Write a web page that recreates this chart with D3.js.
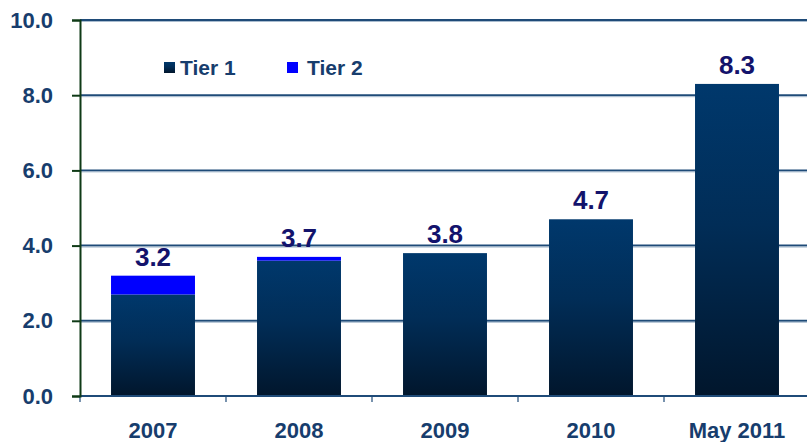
<!DOCTYPE html>
<html>
<head>
<meta charset="utf-8">
<script src="https://cdn.jsdelivr.net/npm/d3@7/dist/d3.min.js"></script>
<style>
  html, body { margin: 0; padding: 0; background: #ffffff; }
  svg { display: block; font-family: "Liberation Sans", Arial, sans-serif; font-weight: bold; }
</style>
</head>
<body>
<svg id="chart" width="807" height="442"></svg>
<script>
// Capital by year, split into Tier 1 and Tier 2
const categories = ["2007", "2008", "2009", "2010", "May 2011"];
const tier1 = [2.7, 3.6, 3.8, 4.7, 8.3];
const tier2 = [0.5, 0.1, 0.0, 0.0, 0.0];
const totals = [3.2, 3.7, 3.8, 4.7, 8.3];
const seriesNames = ["Tier 1", "Tier 2"];
const yTicks = [0, 2, 4, 6, 8, 10];

const svg = d3.select("#chart");
const margin = { top: 20, right: -3, bottom: 46, left: 80 };
const W = 807, H = 442;
const innerW = W - margin.left - margin.right;
const innerH = H - margin.top - margin.bottom;

const defs = svg.append("defs");
const grad = defs.append("linearGradient")
  .attr("id", "tier1Grad").attr("x1", 0).attr("y1", 0).attr("x2", 0).attr("y2", 1);
grad.append("stop").attr("offset", "0%").attr("stop-color", "#00386c");
grad.append("stop").attr("offset", "45%").attr("stop-color", "#012d57");
grad.append("stop").attr("offset", "100%").attr("stop-color", "#01162c");

const g = svg.append("g").attr("transform", `translate(${margin.left},${margin.top})`);

const x = d3.scaleBand().domain(categories).range([0, innerW]).paddingInner(0.425).paddingOuter(0.2125);
const y = d3.scaleLinear().domain([0, 10]).range([innerH, 0]);

// horizontal gridlines
g.append("g").selectAll("line").data(yTicks.filter(d => d > 0)).join("line")
  .attr("x1", 0).attr("x2", innerW + 10)
  .attr("y1", d => y(d)).attr("y2", d => y(d))
  .attr("stroke", "#1f4b78").attr("stroke-width", 2);
g.append("g").selectAll("line").data(yTicks.filter(d => d > 0)).join("line")
  .attr("x1", 0).attr("x2", innerW + 10)
  .attr("y1", d => y(d) + 1.5).attr("y2", d => y(d) + 1.5)
  .attr("stroke", "#a9bccf").attr("stroke-width", 1);

// stacked bars
const stackData = categories.map((c, i) => ({ cat: c, "Tier 1": tier1[i], "Tier 2": tier2[i] }));
const stacked = d3.stack().keys(seriesNames)(stackData);
const fills = { "Tier 1": "url(#tier1Grad)", "Tier 2": "#0000ff" };

g.append("g").selectAll("g").data(stacked).join("g")
  .attr("fill", s => fills[s.key])
  .selectAll("rect").data(s => s).join("rect")
  .attr("x", d => x(d.data.cat))
  .attr("width", x.bandwidth())
  .attr("y", d => y(d[1]))
  .attr("height", d => Math.max(0, y(d[0]) - y(d[1])));

// value labels
g.append("g").selectAll("text").data(categories).join("text")
  .attr("x", c => x(c) + x.bandwidth() / 2)
  .attr("y", (c, i) => y(totals[i]) - 10)
  .attr("text-anchor", "middle")
  .attr("fill", "#13136c")
  .attr("font-size", 26)
  .text((c, i) => totals[i].toFixed(1));

// x axis
const xAxisG = g.append("g").attr("transform", `translate(0,${innerH})`);
xAxisG.append("line").attr("x1", 0).attr("x2", innerW + 10).attr("y1", 0).attr("y2", 0)
  .attr("stroke", "#1f4b78").attr("stroke-width", 2);
const step = x.step();
xAxisG.selectAll("line.tick").data(d3.range(categories.length)).join("line")
  .attr("class", "tick")
  .attr("x1", i => x(categories[i]) - x.paddingOuter() * step)
  .attr("x2", i => x(categories[i]) - x.paddingOuter() * step)
  .attr("y1", 0).attr("y2", 6)
  .attr("stroke", "#1f4b78").attr("stroke-width", 1.2);
xAxisG.selectAll("text").data(categories).join("text")
  .attr("x", c => x(c) + x.bandwidth() / 2)
  .attr("y", 42)
  .attr("text-anchor", "middle")
  .attr("fill", "#173d6d")
  .attr("font-size", 22)
  .text(c => c);

// y axis
const yAxis = d3.axisLeft(y).tickValues(yTicks).tickFormat(d3.format(".1f")).tickSize(8).tickPadding(19);
const yAxisG = g.append("g").call(yAxis);
yAxisG.select(".domain").attr("stroke", "#0f3a16").attr("stroke-width", 2);
yAxisG.selectAll(".tick line").attr("stroke", "#0f3a16").attr("stroke-width", 2);
yAxisG.selectAll(".tick text")
  .attr("fill", "#173d6d")
  .attr("font-size", 22)
  .attr("font-weight", "bold")
  .attr("font-family", "Liberation Sans, Arial, sans-serif");

// legend
const legend = g.append("g").attr("transform", "translate(84,42)");
const legendItems = legend.selectAll("g").data(seriesNames).join("g")
  .attr("transform", (d, i) => `translate(${i * 123},0)`);
legendItems.append("rect")
  .attr("x", 0).attr("y", 0).attr("width", 11).attr("height", 11)
  .attr("fill", d => d === "Tier 1" ? "url(#tier1Grad)" : "#0000ff");
legendItems.append("text")
  .attr("x", d => d === "Tier 1" ? 16 : 20).attr("y", 13)
  .attr("fill", "#173d6d")
  .attr("font-size", 21)
  .text(d => d);
</script>
</body>
</html>
